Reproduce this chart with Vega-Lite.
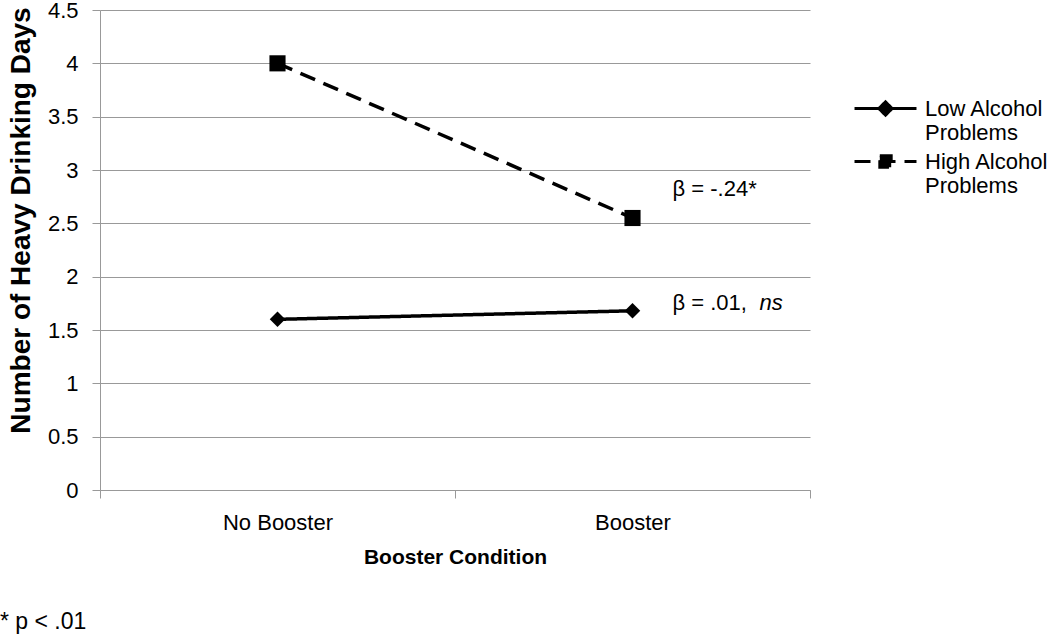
{
  "$schema": "https://vega.github.io/schema/vega-lite/v6.json",
  "width": 710,
  "height": 480,
  "autosize": {"type": "none"},
  "padding": {"left": 100, "top": 10, "right": 240, "bottom": 144},
  "background": "white",
  "config": {
    "font": "Liberation Sans",
    "view": {"stroke": null},
    "axis": {"labelColor": "black", "titleColor": "black", "domainColor": "#999999", "tickColor": "#999999", "gridColor": "#999999"},
    "legend": {
      "title": null,
      "orient": "none",
      "legendX": 768,
      "legendY": 81,
      "padding": 0,
      "rowPadding": 0,
      "symbolSize": 1000,
      "symbolStrokeWidth": 3,
      "symbolOpacity": 1,
      "labelOffset": 22,
      "labelFontSize": 22,
      "labelColor": "black",
      "labelLimit": 300
    }
  },
  "title": {
    "text": "* p < .01",
    "orient": "bottom",
    "anchor": "start",
    "frame": "group",
    "dx": -100,
    "offset": 44,
    "fontSize": 23,
    "fontWeight": "normal",
    "font": "Liberation Sans",
    "color": "black"
  },
  "data": {
    "values": [
      {"condition": "No Booster", "group": "Low Alcohol Problems", "value": 1.6, "note": "", "note_italic": ""},
      {"condition": "Booster", "group": "Low Alcohol Problems", "value": 1.68, "note": "β = .01,", "note_italic": "ns"},
      {"condition": "No Booster", "group": "High Alcohol Problems", "value": 4.0, "note": "", "note_italic": ""},
      {"condition": "Booster", "group": "High Alcohol Problems", "value": 2.55, "note": "β = -.24*", "note_italic": ""}
    ]
  },
  "encoding": {
    "x": {
      "field": "condition",
      "type": "nominal",
      "sort": ["No Booster", "Booster"],
      "scale": {"paddingInner": 0, "paddingOuter": 0},
      "axis": {
        "title": "Booster Condition",
        "labelAngle": 0,
        "labelFontSize": 22,
        "titleFontSize": 21,
        "titleFontWeight": "bold",
        "tickBand": "extent",
        "tickSize": 8,
        "labelPadding": 14,
        "titlePadding": 13,
        "grid": false
      }
    },
    "y": {
      "field": "value",
      "type": "quantitative",
      "scale": {"domain": [0, 4.5], "nice": false, "zero": true},
      "axis": {
        "title": "Number of Heavy Drinking Days",
        "values": [0, 0.5, 1, 1.5, 2, 2.5, 3, 3.5, 4, 4.5],
        "format": "~g",
        "labelFontSize": 22,
        "titleFontSize": 28,
        "titleFontWeight": "bold",
        "titleY": 210,
        "titleAlign": "center",
        "tickSize": 8,
        "labelPadding": 14,
        "titlePadding": 12,
        "grid": true
      }
    }
  },
  "layer": [
    {
      "mark": {"type": "point", "filled": false, "fill": "black", "strokeWidth": 3, "opacity": 0, "size": 1000},
      "encoding": {
        "shape": {
          "field": "group",
          "type": "nominal",
          "scale": {
            "domain": ["Low Alcohol Problems", "High Alcohol Problems"],
            "range": ["M-1.96,0L1.96,0M0,-0.42L0.42,0L0,0.42L-0.42,0Z", "M-1.96,0L1.96,0M-0.36,-0.36L0.36,-0.36L0.36,0.36L-0.36,0.36Z"]
          },
          "legend": {
            "labelExpr": "datum.label == 'Low Alcohol Problems' ? ['Low Alcohol', 'Problems'] : ['High Alcohol', 'Problems']"
          }
        },
        "stroke": {
          "field": "group",
          "type": "nominal",
          "scale": {"domain": ["Low Alcohol Problems", "High Alcohol Problems"], "range": ["black", "black"]},
          "legend": {
            "labelExpr": "datum.label == 'Low Alcohol Problems' ? ['Low Alcohol', 'Problems'] : ['High Alcohol', 'Problems']"
          }
        }
      }
    },
    {
      "mark": {"type": "line", "color": "black", "strokeWidth": 3.5},
      "encoding": {
        "detail": {"field": "group"},
        "strokeDash": {
          "field": "group",
          "type": "nominal",
          "scale": {"domain": ["Low Alcohol Problems", "High Alcohol Problems"], "range": [[1, 0], [16, 9]]},
          "legend": {
            "labelExpr": "datum.label == 'Low Alcohol Problems' ? ['Low Alcohol', 'Problems'] : ['High Alcohol', 'Problems']"
          }
        }
      }
    },
    {
      "transform": [{"filter": "datum.group == 'Low Alcohol Problems'"}],
      "mark": {"type": "point", "shape": "diamond", "size": 240, "filled": true, "color": "black", "opacity": 1}
    },
    {
      "transform": [{"filter": "datum.group == 'High Alcohol Problems'"}],
      "mark": {"type": "point", "shape": "square", "size": 260, "filled": true, "color": "black", "opacity": 1}
    },
    {
      "transform": [{"filter": "datum.group == 'High Alcohol Problems' && datum.note != ''"}],
      "mark": {"type": "text", "align": "left", "baseline": "middle", "fontSize": 22, "color": "black", "dx": 40, "dy": -29},
      "encoding": {"text": {"field": "note"}}
    },
    {
      "transform": [{"filter": "datum.group == 'Low Alcohol Problems' && datum.note != ''"}],
      "mark": {"type": "text", "align": "left", "baseline": "middle", "fontSize": 22, "color": "black", "dx": 40, "dy": -8},
      "encoding": {"text": {"field": "note"}}
    },
    {
      "transform": [{"filter": "datum.note_italic != ''"}],
      "mark": {"type": "text", "align": "left", "baseline": "middle", "fontSize": 22, "fontStyle": "italic", "color": "black", "dx": 127, "dy": -8},
      "encoding": {"text": {"field": "note_italic"}}
    }
  ]
}
